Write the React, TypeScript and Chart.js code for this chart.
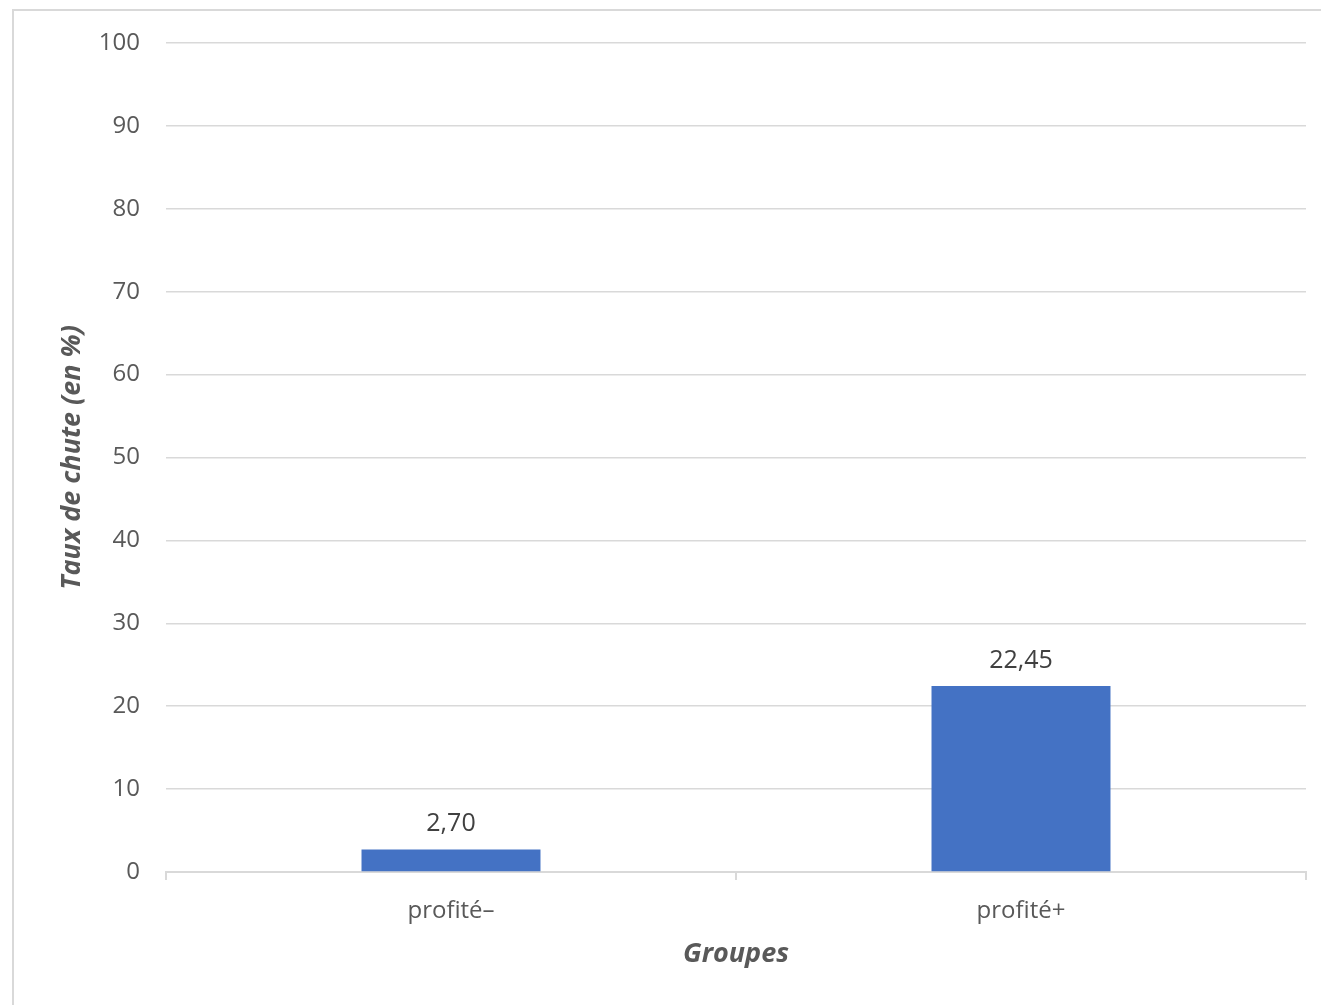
import React, { useEffect, useRef } from "react";
import { Chart, registerables } from "chart.js";

Chart.register(...registerables);

const categories: string[] = ["profité–", "profité+"];
const values: number[] = [2.7, 22.45];
const yTicks: number[] = [0, 10, 20, 30, 40, 50, 60, 70, 80, 90, 100];
const yTitle = "Taux de chute (en %)";
const xTitle = "Groupes";

const FONT = "'Open Sans', 'DejaVu Sans', sans-serif";

const valueLabels = {
  id: "valueLabels",
  afterDatasetsDraw(chart: any) {
    const ctx = chart.ctx;
    const meta = chart.getDatasetMeta(0);
    ctx.save();
    ctx.font = `25px ${FONT}`;
    ctx.fillStyle = "#404040";
    ctx.textAlign = "center";
    ctx.textBaseline = "bottom";
    meta.data.forEach((bar: any, i: number) => {
      const v = values[i];
      ctx.fillText(v.toFixed(2).replace(".", ","), bar.x, bar.y - 13);
    });
    ctx.restore();
  },
};

export default function App() {
  const ref = useRef<HTMLCanvasElement | null>(null);
  useEffect(() => {
    if (!ref.current) return;
    const chart = new Chart(ref.current, {
      type: "bar",
      data: {
        labels: categories,
        datasets: [
          {
            data: values,
            backgroundColor: "#4472C4",
            borderWidth: 0,
            barPercentage: 0.314,
            categoryPercentage: 1,
          },
        ],
      },
      options: {
        responsive: false,
        animation: false,
        layout: { padding: { top: 43, right: 15, left: 0, bottom: 0 } },
        plugins: { legend: { display: false }, tooltip: { enabled: false } },
        scales: {
          x: {
            offset: true,
            grid: {
              display: true,
              offset: true,
              drawOnChartArea: false,
              drawTicks: true,
              tickLength: 8,
              color: "#d9d9d9",
              lineWidth: 2,
            },
            border: { display: true, color: "#d9d9d9", width: 2 },
            ticks: {
              color: "#595959",
              font: { family: FONT, size: 24 },
              padding: 17,
            },
            title: {
              display: true,
              text: xTitle,
              color: "#595959",
              font: { family: FONT, size: 27, weight: "bold", style: "italic" },
              padding: { top: 34, bottom: 34 },
            },
            afterFit(scale: any) {
              scale.height = 133;
            },
          },
          y: {
            min: 0,
            max: 100,
            afterBuildTicks(scale: any) {
              scale.ticks = yTicks.map((v) => ({ value: v }));
            },
            grid: { color: "#d9d9d9", lineWidth: 1.5, drawTicks: false },
            border: { display: false },
            ticks: {
              color: "#595959",
              font: { family: FONT, size: 24 },
              padding: 26,
            },
            title: {
              display: true,
              text: yTitle,
              color: "#595959",
              font: { family: FONT, size: 27, weight: "bold", style: "italic" },
              padding: { top: 56, bottom: 56 },
            },
            afterFit(scale: any) {
              scale.width = 166;
            },
          },
        },
      },
      plugins: [valueLabels],
    });
    return () => chart.destroy();
  }, []);

  return (
    <div style={{ position: "fixed", left: 0, top: 0, width: 1321, height: 1005, background: "#fff", overflow: "hidden" }}>
      <div
        style={{
          position: "absolute",
          left: 12,
          top: 9,
          width: 1400,
          height: 1100,
          border: "2px solid #d9d9d9",
          boxSizing: "border-box",
        }}
      />
      <canvas ref={ref} width={1321} height={1005} style={{ position: "absolute", left: 0, top: 0 }} />
    </div>
  );
}
